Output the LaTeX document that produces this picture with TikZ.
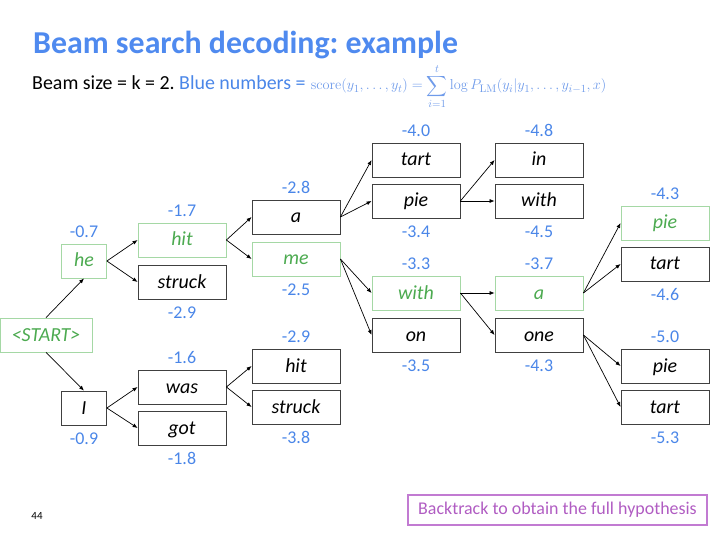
\documentclass[tikz,border=0pt]{standalone}
\usepackage{amsmath}
\usepackage{exscale}
\usepackage[no-math]{fontspec}
\setmainfont{Carlito}
\usepackage{xcolor}
\definecolor{titleBlue}{HTML}{4F8AEF}
\definecolor{scoreBlue}{HTML}{4A86E8}
\definecolor{formulaBlue}{HTML}{6F9BEA}
\definecolor{beamGreen}{HTML}{4CAA50}
\definecolor{beamGreenLine}{HTML}{A5D8A5}
\definecolor{boxGray}{HTML}{404040}
\definecolor{notePurple}{HTML}{B05CC2}
\definecolor{notePurpleLine}{HTML}{C27BD2}
\usepackage{tikz}
\usetikzlibrary{arrows.meta, positioning}

\begin{document}
\frenchspacing
\begin{tikzpicture}[
        x=1bp, y=-1bp,
        >={Latex[length=5bp,width=4bp]},
        wordBox/.style={
            draw=boxGray,
            line width=0.8bp,
            minimum width=88bp,
            minimum height=34bp,
            inner sep=0pt,
            text height=15bp,
            text depth=3bp,
            font=\fontsize{20}{24}\selectfont\itshape
        },
        keptBox/.style={
            wordBox,
            draw=beamGreenLine,
            text=beamGreen
        },
        shortBox/.style={
            minimum width=45bp
        },
        scoreLabel/.style={
            inner sep=0pt,
            font=\fontsize{18}{22}\selectfont,
            text=scoreBlue
        },
        beamArrow/.style={
            ->,
            line width=0.7bp,
            black
        },
        noteBox/.style={
            draw=notePurpleLine,
            line width=1.2bp,
            minimum width=299bp,
            minimum height=30bp,
            inner sep=0pt,
            font=\fontsize{18}{22}\selectfont,
            text=notePurple
        }
    ]
    \useasboundingbox (0,0) rectangle (720,540);

    % Heading
    \node[anchor=base west, inner sep=0pt, font=\fontsize{32}{38}\selectfont\bfseries, text=titleBlue] (title) at (33,54) {Beam search decoding: example};
    \node[anchor=base west, inner sep=0pt, font=\fontsize{20}{24}\selectfont] (subtitle) at (32,90) {Beam size = k = 2. \textcolor{scoreBlue}{Blue numbers =}};
    \node[base right=5bp of subtitle, inner sep=0pt, font=\fontsize{15}{18}\selectfont, text=formulaBlue] (formula)
        {$\displaystyle \mathrm{score}(y_1,\ldots,y_t)=\sum_{i=1}^{t}\log P_{\mathrm{LM}}(y_i|y_1,\ldots,y_{i-1},x)$};

    % Step 0 and 1
    \node[keptBox, minimum width=92bp] (start) at (46,335) {<START>};
    \node[keptBox, shortBox] (he) at (84,261) {he};
    \node[wordBox, shortBox] (i) at (84,408) {I};

    % Step 2
    \node[keptBox] (hit) at (182,240) {hit};
    \node[wordBox] (struck) at (182,282) {struck};
    \node[wordBox] (was) at (182,387) {was};
    \node[wordBox] (got) at (182,428) {got};

    % Step 3
    \node[wordBox] (a) at (296,217) {a};
    \node[keptBox] (me) at (296,259) {me};
    \node[wordBox] (hitB) at (296,366) {hit};
    \node[wordBox] (struckB) at (296,407) {struck};

    % Step 4
    \node[wordBox] (tart) at (416,160) {tart};
    \node[wordBox] (pie) at (416,201) {pie};
    \node[keptBox] (with) at (416,293) {with};
    \node[wordBox] (on) at (416,335) {on};

    % Step 5
    \node[wordBox] (in) at (539,160) {in};
    \node[wordBox] (withB) at (539,201) {with};
    \node[keptBox] (aB) at (539,293) {a};
    \node[wordBox] (one) at (539,335) {one};

    % Step 6
    \node[keptBox] (pieB) at (665,223) {pie};
    \node[wordBox] (tartB) at (665,264) {tart};
    \node[wordBox] (pieC) at (665,366) {pie};
    \node[wordBox] (tartC) at (665,407) {tart};

    % Scores
    \node[scoreLabel, above=6bp of he] (heScore) {-0.7};
    \node[scoreLabel, below=7bp of i] (iScore) {-0.9};
    \node[scoreLabel, above=6bp of hit] (hitScore) {-1.7};
    \node[scoreLabel, below=7bp of struck] (struckScore) {-2.9};
    \node[scoreLabel, above=6bp of was] (wasScore) {-1.6};
    \node[scoreLabel, below=7bp of got] (gotScore) {-1.8};
    \node[scoreLabel, above=6bp of a] (aScore) {-2.8};
    \node[scoreLabel, below=7bp of me] (meScore) {-2.5};
    \node[scoreLabel, above=6bp of hitB] (hitBScore) {-2.9};
    \node[scoreLabel, below=7bp of struckB] (struckBScore) {-3.8};
    \node[scoreLabel, above=6bp of tart] (tartScore) {-4.0};
    \node[scoreLabel, below=7bp of pie] (pieScore) {-3.4};
    \node[scoreLabel, above=6bp of with] (withScore) {-3.3};
    \node[scoreLabel, below=7bp of on] (onScore) {-3.5};
    \node[scoreLabel, above=6bp of in] (inScore) {-4.8};
    \node[scoreLabel, below=7bp of withB] (withBScore) {-4.5};
    \node[scoreLabel, above=6bp of aB] (aBScore) {-3.7};
    \node[scoreLabel, below=7bp of one] (oneScore) {-4.3};
    \node[scoreLabel, above=6bp of pieB] (pieBScore) {-4.3};
    \node[scoreLabel, below=7bp of tartB] (tartBScore) {-4.6};
    \node[scoreLabel, above=6bp of pieC] (pieCScore) {-5.0};
    \node[scoreLabel, below=7bp of tartC] (tartCScore) {-5.3};

    % Expansions
    \draw[beamArrow] (start.north) -- (he.south);
    \draw[beamArrow] (start.south) -- (i.north);
    \draw[beamArrow] (he.east) -- (hit.west);
    \draw[beamArrow] (he.east) -- (struck.west);
    \draw[beamArrow] (i.east) -- (was.west);
    \draw[beamArrow] (i.east) -- (got.west);
    \draw[beamArrow] (hit.east) -- (a.west);
    \draw[beamArrow] (hit.east) -- (me.west);
    \draw[beamArrow] (was.east) -- (hitB.west);
    \draw[beamArrow] (was.east) -- (struckB.west);
    \draw[beamArrow] (a.east) -- (tart.west);
    \draw[beamArrow] (a.east) -- (pie.west);
    \draw[beamArrow] (me.east) -- (with.west);
    \draw[beamArrow] (me.east) -- (on.west);
    \draw[beamArrow] (pie.east) -- (in.west);
    \draw[beamArrow] (pie.east) -- (withB.west);
    \draw[beamArrow] (with.east) -- (aB.west);
    \draw[beamArrow] (with.east) -- (one.west);
    \draw[beamArrow] (aB.east) -- (pieB.west);
    \draw[beamArrow] (aB.east) -- (tartB.west);
    \draw[beamArrow] (one.east) -- (pieC.west);
    \draw[beamArrow] (one.east) -- (tartC.west);

    % Footer
    \node[inner sep=0pt, font=\fontsize{11}{13}\selectfont] (pageNum) at (37,516) {44};
    \node[noteBox] (note) at (557.5,510) {Backtrack to obtain the full hypothesis};
\end{tikzpicture}
\end{document}
